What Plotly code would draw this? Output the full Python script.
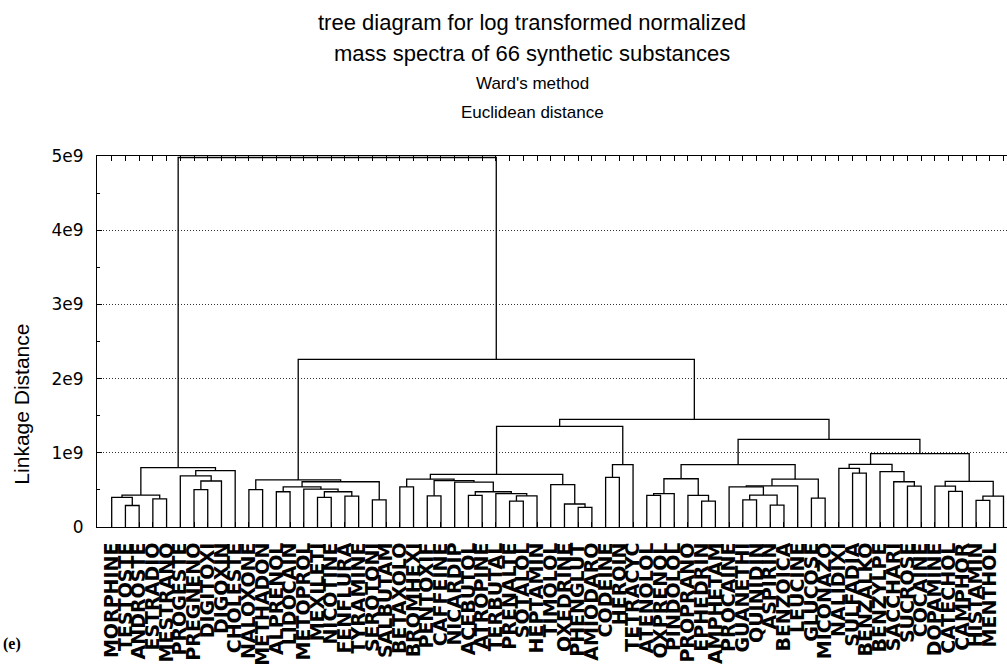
import plotly.graph_objects as go

# Substance names (8-character case labels), in leaf order
names = [
    "MORPHINE", "TESTOSTE", "ANDROSTE", "ESTRADIO", "MESTRANO", "PROGESTE",
    "PREGNENO", "DIGITOXI", "DIGOXIN", "CHOLESTE", "NALOXONE", "METHADON",
    "ALPRENOL", "LIDOCAIN", "METOPROL", "MEXILETI", "NICOTINE", "FENFLURA",
    "TYRAMINE", "SEROTONI", "SALBUTAM", "BETAXOLO", "BROMHEXI", "PENTOXIF",
    "CAFFEINE", "NICARDIP", "ACEBUTOL", "ATROPINE", "TERBUTAL", "PRENALTE",
    "SOTALOL", "HEPTAMIN", "TIMOLOL", "OXEDRINE", "PHENGLUT", "AMIODARO",
    "CODEINE", "HEROIN", "TETRACYC", "ATENOLOL", "OXPRENOL", "PINDOLOL",
    "PROPRANO", "EPHEDRIN", "AMPHETAM", "PROCAINE", "GUANETHI", "QUINIDIN",
    "ASPIRIN", "BENZOICA", "LEUCINE", "GLUCOSE", "MICONAZO", "NALIDIXI",
    "SULFADIA", "BENZALKO", "BENZYLPE", "SACCHARI", "SUCROSE", "COCAINE",
    "DOPAMINE", "CATECHOL", "CAMPHOR", "HISTAMIN", "MENTHOL", "MENTHONE",
]

# Ward linkage steps: (cluster id, left child, right child, linkage distance in 1e9)
# children are leaf indices (int) or ids of earlier clusters (str)
merges = [
    ("a1", 1, 2, 0.29), ("a2", 0, "a1", 0.40), ("a3", 3, 4, 0.38),
    ("a4", "a2", "a3", 0.43), ("a5", 6, 7, 0.505), ("a6", "a5", 8, 0.62),
    ("a7", 5, "a6", 0.69), ("a8", "a7", 9, 0.76), ("A", "a4", "a8", 0.80),
    ("b1", 10, 11, 0.505), ("b2", 12, 13, 0.475), ("b3", 15, 16, 0.40),
    ("b4", 17, 18, 0.415), ("b5", "b3", "b4", 0.475), ("b6", 14, "b5", 0.51),
    ("b7", "b2", "b6", 0.54), ("b8", 19, 20, 0.365), ("b9", "b7", "b8", 0.61),
    ("B", "b1", "b9", 0.635),
    ("c1", 21, 22, 0.54), ("c2", 23, 24, 0.42), ("c3", 26, 27, 0.425),
    ("c4", 29, 30, 0.35), ("c5", "c4", 31, 0.42), ("c6", 28, "c5", 0.45),
    ("c7", "c3", "c6", 0.475), ("c8", 25, "c7", 0.605), ("c9", "c2", "c8", 0.625),
    ("c10", "c1", "c9", 0.645), ("c11", 34, 35, 0.265), ("c12", 33, "c11", 0.31),
    ("c13", 32, "c12", 0.57), ("C", "c10", "c13", 0.71),
    ("d1", 36, 37, 0.67), ("D", "d1", 38, 0.84), ("CD", "C", "D", 1.355),
    ("e1", 39, 40, 0.425), ("e2", "e1", 41, 0.45), ("e3", 43, 44, 0.35),
    ("e4", 42, "e3", 0.425), ("e5", "e2", "e4", 0.65),
    ("f1", 46, 47, 0.365), ("f2", 48, 49, 0.295), ("f3", "f1", "f2", 0.43),
    ("f4", 45, "f3", 0.54), ("f5", "f4", 50, 0.555), ("f6", 51, 52, 0.39),
    ("f7", "f5", "f6", 0.645), ("E", "e5", "f7", 0.84),
    ("g1", 54, 55, 0.725), ("g2", 53, "g1", 0.79), ("g3", 58, 59, 0.55),
    ("g4", 57, "g3", 0.61), ("g5", 56, "g4", 0.745), ("g6", "g2", "g5", 0.845),
    ("h1", 61, 62, 0.48), ("h2", 60, "h1", 0.55), ("h3", 63, 64, 0.36),
    ("h4", "h3", 65, 0.415), ("h5", "h2", "h4", 0.615), ("G", "g6", "h5", 0.99),
    ("EG", "E", "G", 1.18), ("CG", "CD", "EG", 1.45), ("BG", "B", "CG", 2.26),
    ("root", "A", "BG", 4.98),
]

y_ticks = [0, 1e9, 2e9, 3e9, 4e9, 5e9]
y_tick_text = ["0", "1e9", "2e9", "3e9", "4e9", "5e9"]

title_lines = [
    "tree diagram for log transformed normalized",
    "mass spectra of 66 synthetic substances",
    "Ward's method",
    "Euclidean distance",
]
title_sizes = [22, 22, 17, 17]

# build the dendrogram path: each merge is a bracket joining its two children
pos = {i: float(i) for i in range(len(names))}
hgt = {i: 0.0 for i in range(len(names))}
xs, ys = [], []
for key, a, b, h in merges:
    hv = h * 1e9
    xa, xb = pos[a], pos[b]
    xs += [xa, xa, xb, xb, None]
    ys += [hgt[a], hv, hv, hgt[b], None]
    pos[key] = (xa + xb) / 2
    hgt[key] = hv

fig = go.Figure()
fig.add_trace(go.Scatter(
    x=xs, y=ys, mode="lines",
    line=dict(color="black", width=1.3),
    hoverinfo="skip", showlegend=False,
))

W, H = 1007, 666
L, R, T, B = 97, 0, 156, 131
plot_w = W - L - R
plot_h = H - T - B
step = 13.72
x0 = -(111.7 - L) / step
x1 = x0 + plot_w / step

fig.update_layout(
    width=W, height=H,
    margin=dict(l=L, r=R, t=T, b=B, pad=0),
    paper_bgcolor="white", plot_bgcolor="white",
    font=dict(family="Liberation Sans, Arial, sans-serif", color="black"),
    showlegend=False,
)

fig.update_xaxes(
    range=[x0, x1], showgrid=False, zeroline=False,
    showline=True, linecolor="black", linewidth=1, mirror="ticks",
    ticks="inside", ticklen=5, tickcolor="black", tickwidth=1,
    tickmode="array", tickvals=list(range(len(names))), ticktext=names,
    tickangle=-90,
    tickfont=dict(family="DejaVu Sans", size=19, color="black", weight="bold"),
    ticklabelstandoff=7,
)

fig.update_yaxes(
    range=[0, 5e9], zeroline=False,
    showline=True, linecolor="black", linewidth=1, mirror=False,
    ticks="inside", ticklen=5, tickcolor="black",
    tickmode="array", tickvals=y_ticks, ticktext=y_tick_text,
    tickfont=dict(family="DejaVu Sans", size=17, color="black"),
    ticklabelstandoff=9,
    showgrid=True, gridcolor="#333333", gridwidth=1, griddash="1px,2px",
    minor=dict(dtick=0.5e9, ticks="inside", ticklen=3, tickcolor="black", showgrid=False),
)

def paper_x(px):
    return (px - L) / plot_w

def paper_y(py):
    return (H - B - py) / plot_h

annotations = []
for line, size, py in zip(title_lines, title_sizes, [20, 51, 82, 112]):
    annotations.append(dict(
        text=line, x=paper_x(532), y=paper_y(py), xref="paper", yref="paper",
        xanchor="center", yanchor="middle", showarrow=False,
        font=dict(family="Liberation Sans, Arial", size=size, color="black"),
    ))
annotations.append(dict(
    text="Linkage Distance", x=paper_x(22), y=paper_y(410), xref="paper", yref="paper",
    xanchor="center", yanchor="middle", textangle=-90, showarrow=False,
    font=dict(family="Liberation Sans, Arial", size=21, color="black"),
))
annotations.append(dict(
    text="<b>(e)</b>", x=paper_x(1), y=paper_y(655), xref="paper", yref="paper",
    xanchor="left", yanchor="middle", showarrow=False,
    font=dict(family="Liberation Serif, Times New Roman, serif", size=16, color="black"),
))
fig.update_layout(annotations=annotations)

fig.write_html("out.html")
